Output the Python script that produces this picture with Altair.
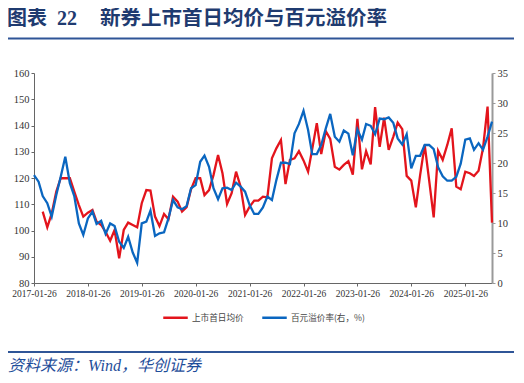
import altair as alt
import pandas as pd

# ---------------- data ----------------
start_date = "2017-01-26"
n_months = 103

# 上市首日均价 (left axis)
red_vals = [None, None,
    107.2, 101.2, 106.5, 114.8, 119.9, 119.9, 119.9, 114.8, 109.7, 105.3,
    106.8, 107.8, 103.4, 102.1, 99.5, 96.1, 100.2, 89.4, 100.2, 103.0,
    102.1, 101.2, 110.4, 115.4, 115.2, 105.3, 101.7, 106.3, 104.3, 112.9,
    111.0, 107.2, 108.9, 115.7, 119.9, 119.9, 113.5, 115.4, 121.1, 128.8,
    121.8, 110.1, 114.2, 122.4, 116.7, 105.9, 109.1, 111.4, 111.4, 112.9,
    112.6, 127.5, 131.3, 134.5, 117.7, 126.9, 127.5, 130.2, 126.7, 122.4,
    131.0, 140.9, 129.1, 137.8, 134.9, 124.3, 123.2, 125.0, 126.4, 121.3,
    142.5, 123.3, 130.2, 125.2, 147.0, 131.9, 143.0, 130.7, 135.7, 141.1,
    138.6, 120.8, 119.0, 108.8, 121.1, 132.6, 119.2, 105.0, 130.4, 126.9,
    132.6, 138.9, 116.7, 115.7, 122.4, 121.8, 120.8, 122.8, 131.3, 147.2,
    103.0]

# 百元溢价率 (right axis, %)
blue_vals = [
    17.98, 16.89, 14.48, 13.3, 11.07, 14.66, 17.72, 21.04, 16.63, 14.48,
    9.93, 8.01, 10.76, 11.9, 9.84, 10.37, 8.18, 9.93, 9.49, 6.87,
    5.86, 7.7, 5.08, 3.37, 9.93, 10.24, 12.08, 7.83, 8.27, 8.44,
    10.76, 13.83, 12.6, 12.29, 12.82, 15.79, 16.32, 20.21, 21.22, 19.38,
    15.79, 13.96, 15.79, 15.88, 15.49, 16.71, 16.06, 15.23, 12.99, 11.51,
    11.51, 12.6, 14.39, 13.83, 17.15, 20.04, 20.04, 19.82, 24.94, 26.51,
    28.7, 25.51, 21.48, 21.48, 23.01, 25.77, 28.18, 24.37, 23.55, 25.4,
    24.9, 21.3, 25.6, 23.9, 26.5, 26.2, 24.8, 27.4, 27.3, 27.6,
    26.7, 24.1, 23.1, 24.8, 19.1, 21.2, 21.2, 23.0, 23.0, 22.3,
    19.3, 17.8, 17.05, 17.05, 17.7, 19.9, 23.9, 24.1, 22.2, 23.3,
    22.2, 24.4, 26.9]

series_names = ["上市首日均价", "百元溢价率(右，%)"]
series_colors = ["#E3141C", "#0A66C0"]
left_ticks = [80, 90, 100, 110, 120, 130, 140, 150, 160]
right_ticks = [0, 5, 10, 15, 20, 25, 30, 35]
tick_years = list(range(2017, 2026))

title_left = "图表\u200222"
title_right = "新券上市首日均价与百元溢价率"
source_text = "资料来源：Wind，华创证券"

# ---------------- frames ----------------
dates = pd.date_range(start_date, periods=n_months, freq=pd.DateOffset(months=1)).strftime("%Y-%m-%d")
red_df = pd.DataFrame({"date": dates, "value": red_vals, "series": series_names[0]}).dropna()
blue_df = pd.DataFrame({"date": dates, "value": blue_vals, "series": series_names[1]})
one = pd.DataFrame({"a": [0]})

AXIS_FONT = "Liberation Serif"
CJK = "Liberation Serif, Noto Sans CJK SC"

x_enc = alt.X(
    "date:T",
    scale=alt.Scale(type="utc", domain=[
        alt.DateTime(year=2017, month=1, date=26, utc=True),
        alt.DateTime(year=2025, month=7, date=26, utc=True)]),
    axis=alt.Axis(
        values=[alt.DateTime(year=y, month=1, date=26, utc=True) for y in tick_years],
        format="%Y-%m-%d", title=None, grid=False, tickSize=3,
        labelFont=AXIS_FONT, labelFontSize=9.5, labelColor="#333333",
        domainColor="#666666", tickColor="#666666", labelPadding=2,
        labelOverlap=False, labelFlush=False),
)

color_enc = alt.Color(
    "series:N",
    scale=alt.Scale(domain=series_names, range=series_colors),
    legend=alt.Legend(
        orient="none", legendX=128, legendY=231, direction="horizontal",
        title=None, symbolType="stroke", symbolSize=600, symbolStrokeWidth=2.5,
        labelFont="Noto Sans CJK SC", labelFontSize=8.6, labelColor="#444444",
        labelOffset=3, columnPadding=13, padding=0),
)

red_line = alt.Chart(red_df).mark_line(strokeWidth=2.3).encode(
    x=x_enc,
    y=alt.Y("value:Q", scale=alt.Scale(domain=[80, 160], nice=False, zero=False),
            axis=alt.Axis(orient="left", values=left_ticks, title=None, grid=False,
                          tickSize=3, labelFont=AXIS_FONT, labelFontSize=10.5,
                          labelColor="#333333", domainColor="#666666",
                          tickColor="#666666", labelPadding=2)),
    color=color_enc,
)

blue_line = alt.Chart(blue_df).mark_line(strokeWidth=2.3).encode(
    x=x_enc,
    y=alt.Y("value:Q", scale=alt.Scale(domain=[0, 35], nice=False),
            axis=alt.Axis(orient="right", values=right_ticks, title=None, grid=False,
                          tickSize=3, labelFont=AXIS_FONT, labelFontSize=10.5,
                          labelColor="#333333", domainColor="#999999",
                          domainWidth=2, tickColor="#999999", labelPadding=2)),
    color=color_enc,
)

lines = alt.layer(red_line, blue_line).resolve_scale(y="independent")

# ---------------- decorations (page title, rules, source) ----------------
t1 = alt.Chart(one).mark_text(
    text=title_left, font=CJK, fontSize=20, fontWeight="bold", color="#1F3B70",
    align="left", baseline="middle").encode(x=alt.value(-27), y=alt.value(-54.5))
t2 = alt.Chart(one).mark_text(
    text=title_right, font=CJK, fontSize=20.5, fontWeight="bold", color="#1F3B70",
    align="left", baseline="middle").encode(x=alt.value(66), y=alt.value(-54.5))
top_rule = alt.Chart(one).mark_rule(color="#2F5597", strokeWidth=2).encode(
    x=alt.value(-29), x2=alt.value(483), y=alt.value(-34.5))
bottom_rule = alt.Chart(one).mark_rule(color="#2F5597", strokeWidth=2).encode(
    x=alt.value(-29), x2=alt.value(483), y=alt.value(279))
src = alt.Chart(one).mark_text(
    text=source_text, font=CJK, fontSize=16, fontStyle="italic", color="#1F4E9A",
    align="left", baseline="middle").encode(x=alt.value(-26), y=alt.value(292.5))

chart = alt.layer(lines, t1, t2, top_rule, bottom_rule, src).properties(
    width=458, height=210,
    autosize=alt.AutoSizeParams(type="none"),
    padding={"left": 26, "top": 65, "right": 22, "bottom": 92},
    background="white",
).configure_view(stroke=None)

chart.save("out.html", embed_options={"renderer": "svg", "actions": False})
